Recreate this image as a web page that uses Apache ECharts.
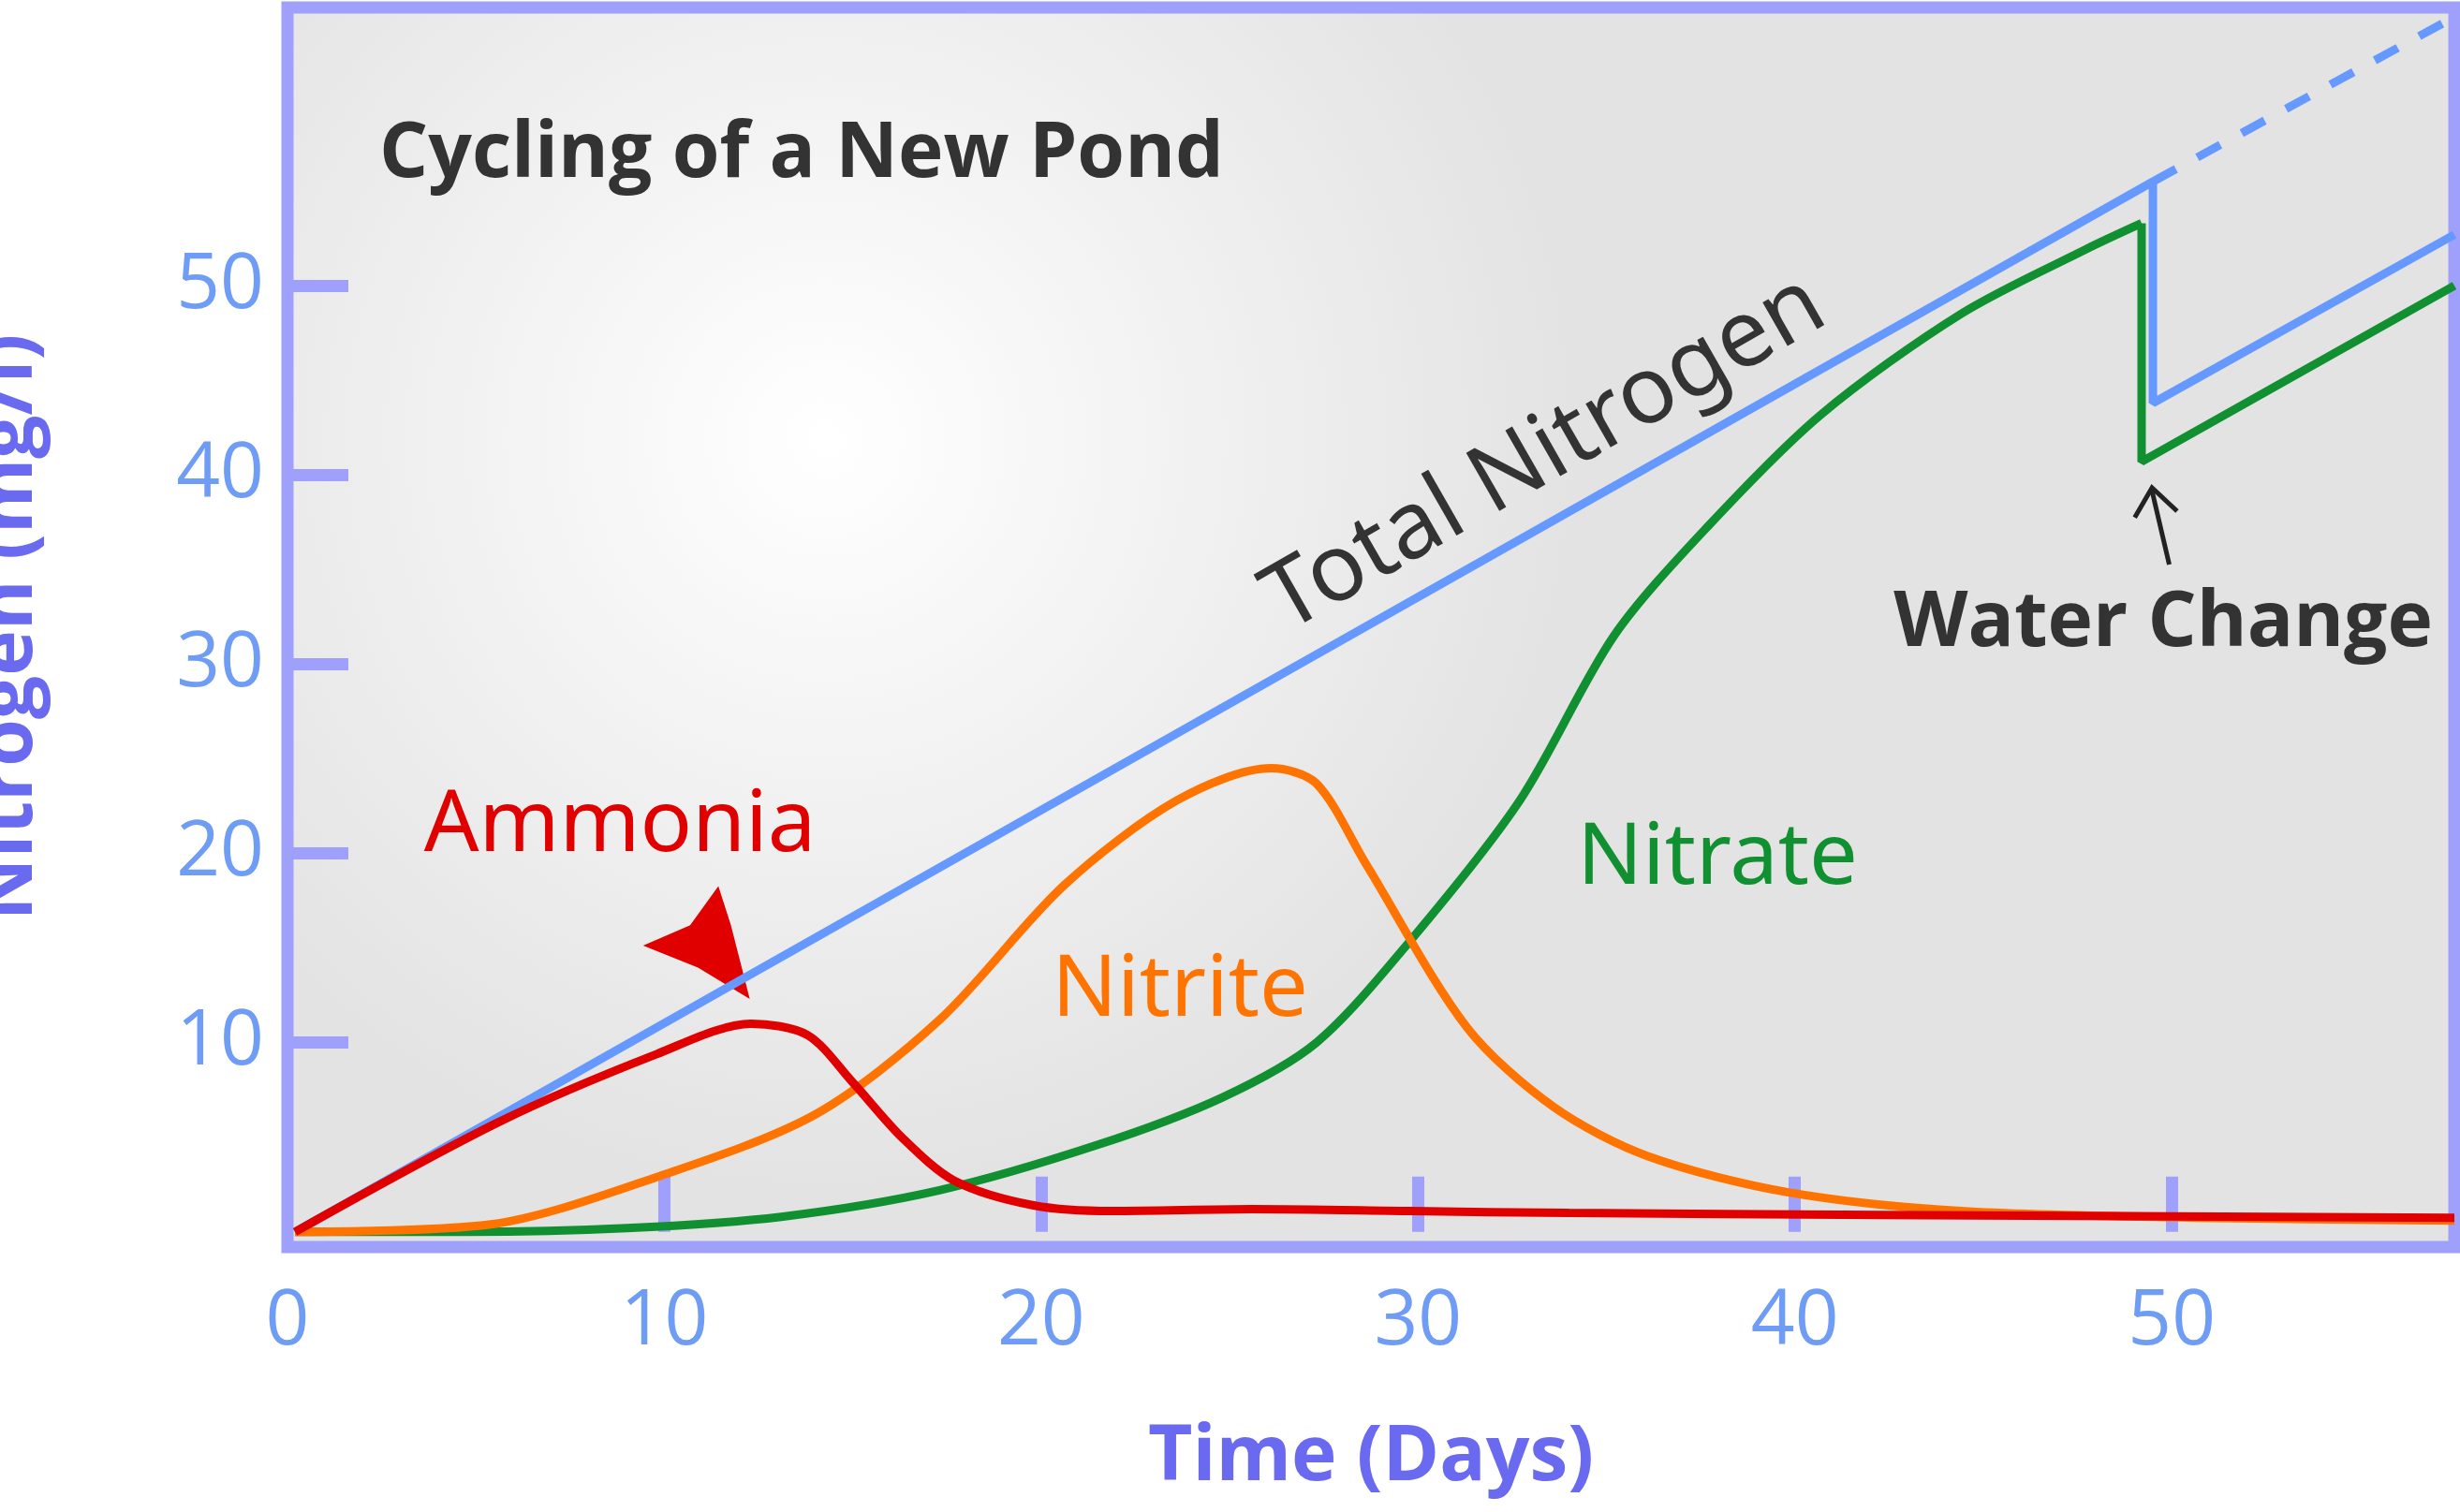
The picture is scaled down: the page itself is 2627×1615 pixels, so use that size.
<!DOCTYPE html>
<html><head><meta charset="utf-8">
<script src="https://cdn.jsdelivr.net/npm/echarts@6/dist/echarts.min.js"></script>
<style>html,body{margin:0;padding:0;background:#fff}#c{width:2627px;height:1615px}</style>
</head><body><div id="c"></div>
<script>
const totalN = [[0.2,0],[49.5,55.5],[49.5,43.8],[57.5,52.7]];
const totalDotted = [[49.5,55.5],[57.5,64.2]];
const ammonia = [[0.2,0],[5.6,5.8],[9.8,9.4],[12.3,11.0],[13.8,10.4],[15,7.9],[16.3,5.0],[17.7,2.7],[19.8,1.4],[21.9,1.1],[25.6,1.2],[29.8,1.1],[34,1.0],[42.3,0.9],[57.5,0.75]];
const nitrite = [[0.2,0],[5.4,0.4],[9.8,2.9],[14,6.2],[17.3,11.2],[20.6,18.3],[23.6,22.8],[26.1,24.5],[27.3,23.7],[28.6,19.5],[31.3,10.8],[33.6,6.6],[36.1,4.0],[39.8,2.1],[44.4,1.1],[50.7,0.75],[57.5,0.6]];
const nitrateA = [[0.2,0],[4.8,0],[9,0.2],[13.1,0.8],[17.3,2.2],[21.5,4.6],[24.8,7.1],[27.3,10.0],[29.8,15.4],[32.7,22.8],[35.2,31.5],[37.7,37.3],[40.7,43.2],[44.4,48.5],[47.7,51.9],[49.2,53.3]];
const nitrateB = [[49.2,53.3],[49.2,40.7],[57.5,50]];
const xTicks = [10,20,30,40,50];
const xLabels = [0,10,20,30,40,50];
const yTicks = [10,20,30,40,50];
const S = 1.675;
const chart = echarts.init(document.getElementById('c'));
const lab = {color:'#6f9cf5', fontSize:82, fontFamily:'Open Sans'};
chart.setOption({
  animation:false,
  grid:{left:307,right:6,top:8,bottom:283,outerBoundsMode:'none',containLabel:false,show:true,borderColor:'#9f9ffc',borderWidth:13,
    backgroundColor:new echarts.graphic.RadialGradient(0.25,0.35,0.6,[{offset:0,color:'#ffffff'},{offset:1,color:'#e3e3e3'}])},
  xAxis:{type:'value',min:0,max:57.5,axisLine:{show:false},splitLine:{show:false},
    axisTick:{show:true,inside:true,length:59,lineStyle:{color:'#9f9ffc',width:13},customValues:xTicks},
    axisLabel:Object.assign({customValues:xLabels,margin:40},lab),
    name:'Time (Days)',nameLocation:'middle',nameGap:185,
    nameTextStyle:{color:'#6a6af0',fontSize:82,fontWeight:'bold',fontFamily:'Open Sans'}},
  yAxis:{type:'value',min:-0.8,max:64.7,axisLine:{show:false},splitLine:{show:false},
    axisTick:{show:true,inside:true,length:65,lineStyle:{color:'#9f9ffc',width:13},customValues:yTicks},
    axisLabel:Object.assign({customValues:yTicks,margin:25},lab),
    name:'Nitrogen (mg/l)',nameLocation:'middle',nameGap:255,
    nameTextStyle:{color:'#6a6af0',fontSize:82,fontWeight:'bold',fontFamily:'Open Sans'}},
  series:[
    {type:'line',data:totalN,symbol:'none',lineStyle:{color:'#6699ff',width:9}},
    {type:'line',data:totalDotted,symbol:'none',lineStyle:{color:'#6699ff',width:9,type:[28,26]}},
    {type:'line',data:nitrateA,symbol:'none',smooth:0.3,lineStyle:{color:'#109030',width:9}},
    {type:'line',data:nitrateB,symbol:'none',lineStyle:{color:'#109030',width:9}},
    {type:'line',data:nitrite,symbol:'none',smooth:0.3,lineStyle:{color:'#ff7300',width:9}},
    {type:'line',data:ammonia,symbol:'none',smooth:0.3,lineStyle:{color:'#e00000',width:9}}
  ],
  graphic:[
    {type:'text',left:405,top:125,style:{text:'Cycling of a New Pond',fontSize:82,fontWeight:'bold',fontFamily:'Open Sans',fill:'#333'}},
    {type:'text',x:1650,y:485,rotation:0.52,style:{text:'Total Nitrogen',fontSize:100,fontFamily:'Noto Sans',fill:'#333',align:'center',verticalAlign:'middle'}},
    {type:'text',x:662,y:883,style:{text:'Ammonia',fontSize:92,fontFamily:'Noto Sans',fill:'#e00000',align:'center',verticalAlign:'middle'}},
    {type:'text',x:1260,y:1059,style:{text:'Nitrite',fontSize:92,fontFamily:'Noto Sans',fill:'#ff7300',align:'center',verticalAlign:'middle'}},
    {type:'text',x:1834,y:918,style:{text:'Nitrate',fontSize:92,fontFamily:'Noto Sans',fill:'#109030',align:'center',verticalAlign:'middle'}},
    {type:'text',x:2310,y:667,style:{text:'Water Change',fontSize:82,fontWeight:'bold',fontFamily:'Open Sans',fill:'#333',align:'center',verticalAlign:'middle'}},
    {type:'polyline',shape:{points:[[1383*S,360*S],[1372*S,313*S]]},style:{stroke:'#222',lineWidth:5}},
    {type:'polyline',shape:{points:[[1361*S,330*S],[1372*S,311*S],[1388*S,326*S]]},style:{stroke:'#222',lineWidth:5,fill:null}},
    {type:'polygon',shape:{points:[[410*S,603*S],[440*S,590*S],[458*S,565*S],[466*S,590*S],[478*S,637*S],[445*S,617*S]]},style:{fill:'#e00000'}}
  ]
});
</script></body></html>
